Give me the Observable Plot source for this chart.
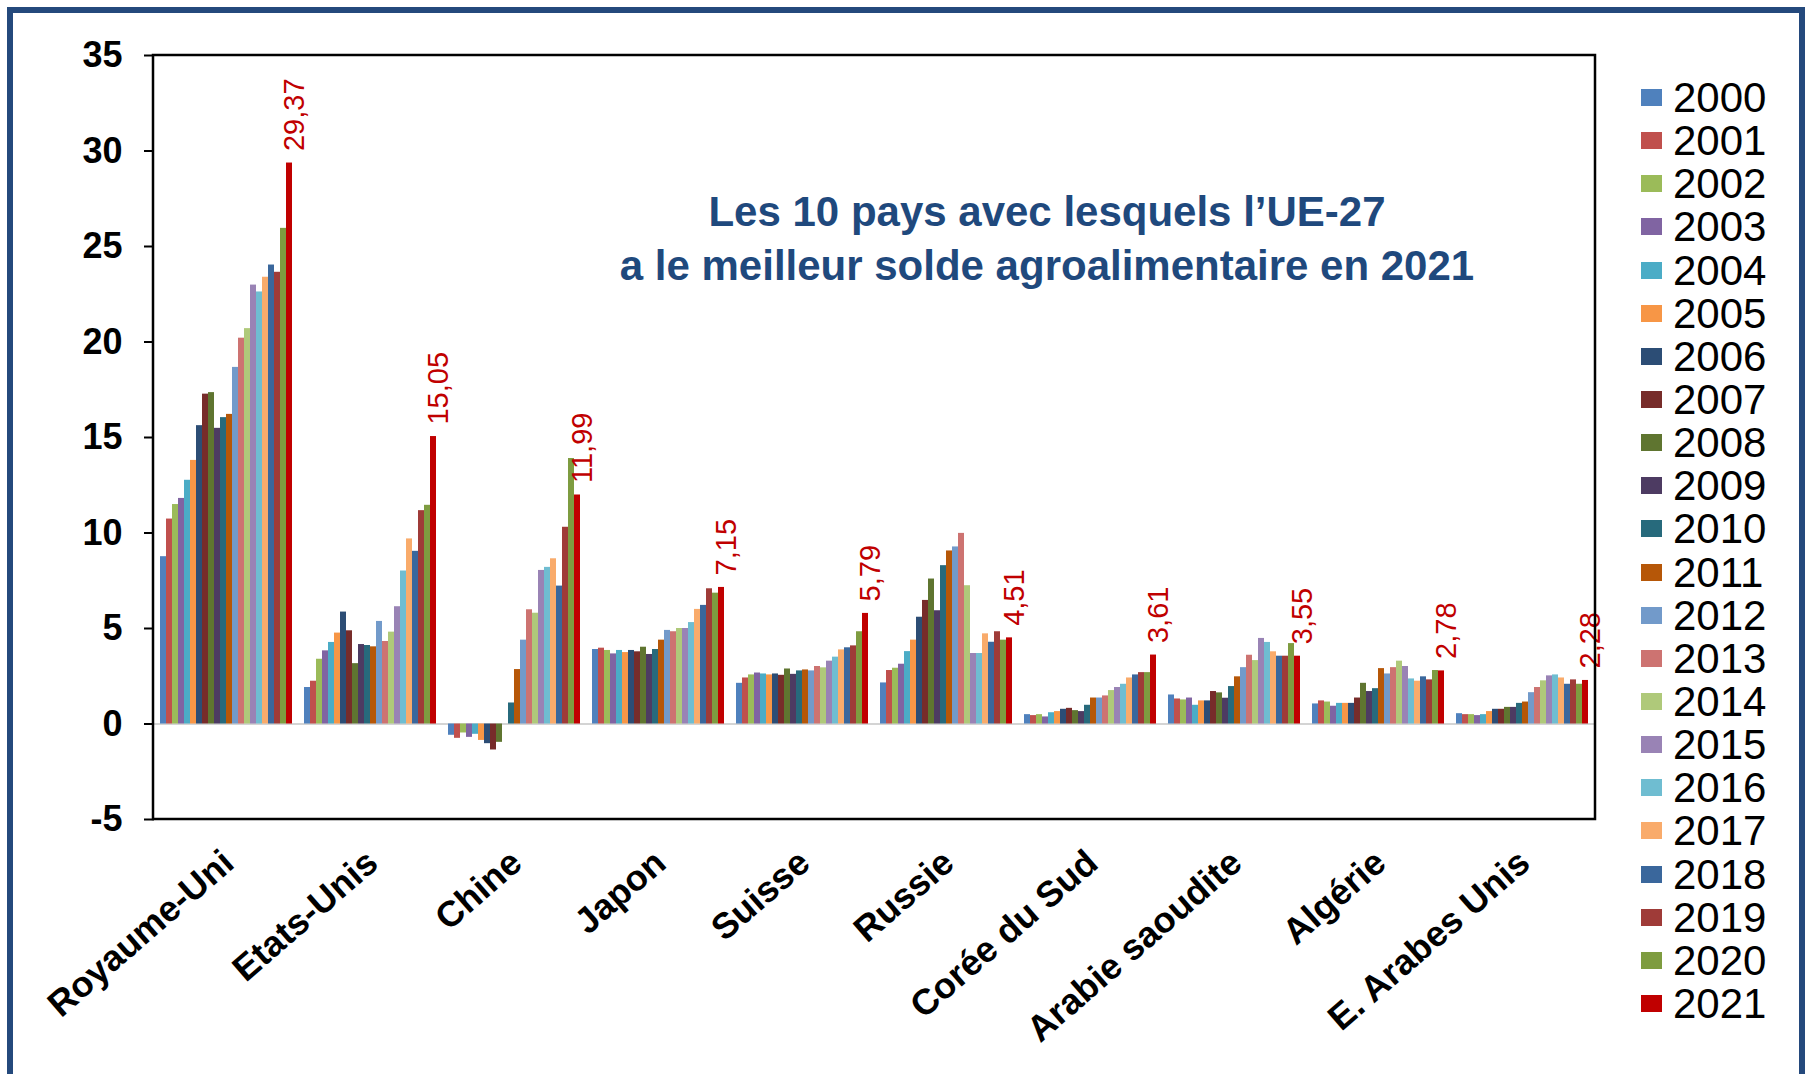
<!DOCTYPE html>
<html><head><meta charset="utf-8">
<script src="https://cdn.jsdelivr.net/npm/d3@7"></script>
<script src="https://cdn.jsdelivr.net/npm/@observablehq/plot@0.6"></script>
<style>
body{margin:0;background:#fff;overflow:hidden;font-family:"Liberation Sans",Arial,sans-serif}
#wrap{position:relative;width:1808px;height:1074px;overflow:hidden;background:#fff}
#border{position:absolute;left:7px;top:7px;width:1798px;height:1120px;border:6px solid #24497c;box-sizing:border-box}
#chart{position:absolute;left:0;top:0}
#title{position:absolute;left:547px;width:1000px;top:185px;text-align:center;color:#1f497d;font-weight:bold;font-size:42px;line-height:54px}
#legend{position:absolute;left:1641px;top:0}
.item{position:absolute;left:0;height:44px;width:160px}
.sw{position:absolute;left:0;width:21px;height:17px}
.lb{position:absolute;left:32px;font-size:42px;line-height:44px;color:#000}
</style></head>
<body><div id="wrap"><div id="border"></div><div id="chart"></div>
<div id="title">Les 10 pays avec lesquels l’UE-27<br>a le meilleur solde agroalimentaire en 2021</div>
<div id="legend"></div></div>
<script>
const countries = ["Royaume-Uni","Etats-Unis","Chine","Japon","Suisse","Russie","Corée du Sud","Arabie saoudite","Algérie","E. Arabes Unis"];
const years = ["2000","2001","2002","2003","2004","2005","2006","2007","2008","2009","2010","2011","2012","2013","2014","2015","2016","2017","2018","2019","2020","2021"];
const yearColors = ["#4F81BD","#C0504D","#9BBB59","#8064A2","#4BACC6","#F79646","#2C4D75","#772C2A","#5F7530","#4D3B62","#276A7C","#B65708","#729ACA","#CD7371","#AFC97A","#9983B5","#6FBDD1","#F9AB6B","#3A679C","#9F3B38","#7E9C40","#C00000"];
const yTicks = [-5,0,5,10,15,20,25,30,35];

const royaumeUni = [8.76,10.73,11.49,11.81,12.76,13.80,15.62,17.27,17.35,15.48,16.04,16.21,18.67,20.20,20.70,22.98,22.62,23.39,24.03,23.65,25.95,29.37];
const etatsUnis = [1.91,2.24,3.39,3.83,4.27,4.76,5.86,4.88,3.16,4.16,4.11,4.04,5.37,4.32,4.81,6.14,8.01,9.69,9.04,11.17,11.45,15.05];
const chine = [-0.59,-0.75,-0.47,-0.70,-0.54,-0.86,-1.03,-1.36,-0.96,0,1.10,2.85,4.39,5.98,5.80,8.04,8.20,8.65,7.22,10.30,13.90,11.99];
const japon = [3.90,3.97,3.85,3.67,3.85,3.74,3.85,3.78,4.02,3.64,3.90,4.39,4.90,4.83,5.00,5.00,5.31,6.00,6.21,7.08,6.85,7.15];
const suisse = [2.13,2.41,2.57,2.67,2.62,2.57,2.62,2.55,2.88,2.60,2.78,2.83,2.78,3.01,2.94,3.29,3.50,3.88,3.99,4.09,4.83,5.79];
const russie = [2.15,2.80,2.92,3.13,3.79,4.39,5.59,6.47,7.59,5.93,8.29,9.06,9.27,9.98,7.24,3.69,3.69,4.72,4.28,4.83,4.39,4.51];
const coreeDuSud = [0.49,0.44,0.49,0.37,0.59,0.65,0.77,0.82,0.70,0.65,0.98,1.36,1.36,1.47,1.75,1.91,2.08,2.41,2.57,2.69,2.69,3.61];
const arabieSaoudite = [1.52,1.31,1.26,1.36,0.98,1.21,1.21,1.70,1.63,1.35,1.96,2.47,2.95,3.60,3.32,4.48,4.27,3.78,3.55,3.55,4.21,3.55];
const algerie = [1.05,1.21,1.15,0.93,1.08,1.08,1.08,1.36,2.13,1.70,1.85,2.90,2.62,2.95,3.29,3.01,2.36,2.24,2.47,2.31,2.80,2.78];
const emirats = [0.54,0.49,0.49,0.44,0.49,0.65,0.77,0.77,0.87,0.87,1.08,1.15,1.64,1.91,2.26,2.52,2.57,2.41,2.08,2.31,2.08,2.28];

const series = [royaumeUni, etatsUnis, chine, japon, suisse, russie, coreeDuSud, arabieSaoudite, algerie, emirats];
const rows = countries.flatMap((c, i) => series[i].map((v, j) => ({country: c, year: years[j], value: v})));
const last = rows.filter(d => d.year === "2021");
const fmt = v => d3.format(".2f")(v).replace(".", ",");

const chart = Plot.plot({
  width: 1808, height: 1074,
  marginLeft: 153, marginRight: 213, marginTop: 55, marginBottom: 255,
  style: {fontFamily: "'Liberation Sans', Arial, sans-serif", background: "transparent", overflow: "visible", color: "#000"},
  fx: {domain: countries, padding: 0, label: null},
  x: {domain: years, paddingInner: 0, paddingOuter: 0.55, axis: null},
  y: {domain: [-5, 35], label: null},
  color: {domain: years, range: yearColors},
  marks: [
    Plot.ruleY([0], {stroke: "#d4d4d4", strokeWidth: 2}),
    Plot.barY(rows, {fx: "country", x: "year", y: "value", fill: "year", inset: 0}),
    Plot.text(last, {fx: "country", x: "year", y: "value", text: d => fmt(d.value), rotate: -90, textAnchor: "start", dy: -12, dx: 5, fill: "#C00000", fontSize: 29}),
    Plot.axisY({ticks: yTicks, tickSize: 10, tickPadding: 22, tickFormat: d => String(d), fontSize: 36, fontWeight: "bold", strokeWidth: 2, label: null}),
    Plot.axisFx({anchor: "bottom", tickRotate: -41, tickSize: 0, tickPadding: 38, dx: 2, fontSize: 36, fontWeight: "bold", label: null})
  ]
});
document.getElementById("chart").appendChild(chart);

const ys = chart.scale("y");
d3.select(chart).append("rect")
  .attr("x", 153).attr("y", ys.apply(35))
  .attr("width", 1808 - 153 - 213).attr("height", ys.apply(-5) - ys.apply(35))
  .attr("fill", "none").attr("stroke", "#000").attr("stroke-width", 2.5);

const legend = d3.select("#legend");
years.forEach((yr, i) => {
  const it = legend.append("div").attr("class", "item").style("top", (98 + i * 43.14 - 22) + "px");
  it.append("div").attr("class", "sw").style("top", "13px").style("background", yearColors[i]);
  it.append("div").attr("class", "lb").style("top", "0px").text(yr);
});
</script></body></html>
